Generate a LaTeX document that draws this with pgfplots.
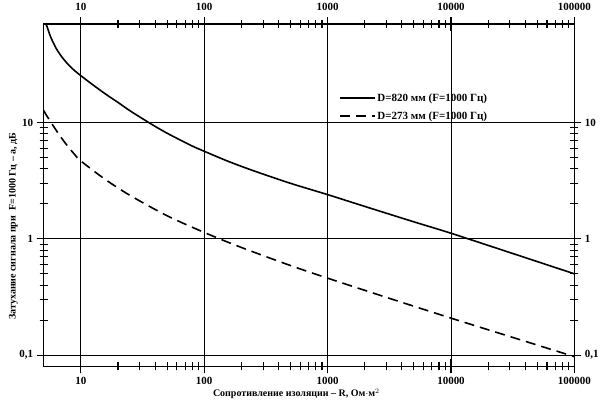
\documentclass[border=0pt]{standalone}
\usepackage{fontspec}
\setmainfont{Liberation Serif}
\usepackage{pgfplots}
\pgfplotsset{compat=1.18}

\begin{document}
\begin{tikzpicture}
\begin{axis}[
    xmode=log, ymode=log,
    scale only axis,
    width=529bp, height=341bp,
    xmin=5, xmax=100000,
    ymin=0.08, ymax=70,
    xtick={10,100,1000,10000,100000},
    xticklabels={10,100,1000,10000,100000},
    ytick={0.1,1,10},
    yticklabels={{0,1},1,10},
    tick align=center,
    major tick length=14bp,
    minor tick length=8bp,
    tick style={black, line width=1.1pt},
    axis line style={line width=1.6pt},
    ticklabel style={font=\bfseries\fontsize{11}{13}\selectfont},
    grid=major,
    major grid style={black, line width=1.0pt},
    xlabel={Сопротивление изоляции -- R, Ом$\cdot$м$^2$},
    ylabel={Затухание сигнала при\ \ F=1000 Гц -- a, дБ},
    label style={font=\bfseries\fontsize{10}{12}\selectfont},
    xlabel style={at={(axis description cs:0.476,-0.08)}, anchor=center},
    ylabel style={at={(axis description cs:-0.057,0.41)}, anchor=center, inner ysep=9bp},
    legend style={draw=none, fill=none, at={(0.55,0.81)}, anchor=north west,
                  font=\bfseries\fontsize{11}{13}\selectfont, row sep=5bp},
    legend cell align=left,
    legend image code/.code={\draw[#1] (0bp,0bp) -- (35bp,0bp);},
]
% D=820 mm
\addplot[black, line width=1.6pt, smooth] coordinates {
    (5, 75) (5.3, 67.7) (5.7, 54.3) (6.3, 43.6) (7, 36.8) (8, 31.1)
    (9, 27.7) (10, 25.3) (12.6, 21.0) (15.85, 17.6) (20, 14.9)
    (25.1, 12.6) (31.6, 10.8) (39.8, 9.3) (50, 8.1) (63, 7.13)
    (79, 6.32) (100, 5.66) (158, 4.62) (251, 3.85) (501, 3.0)
    (1000, 2.4) (2000, 1.9) (5000, 1.4) (10000, 1.117) (30000, 0.762)
    (100000, 0.5)
};
\addlegendentry{D=820 мм (F=1000 Гц)}

% D=273 mm
\addplot[black, line width=1.6pt, dash pattern=on 10bp off 6bp, smooth] coordinates {
    (5, 12.7) (5.2, 11.8) (6, 9.3) (7, 7.33) (8, 6.08) (9, 5.25)
    (10, 4.67) (15.85, 3.23) (25.1, 2.36) (50, 1.58) (100, 1.135)
    (200, 0.843) (501, 0.589) (1000, 0.459) (3162, 0.308)
    (10000, 0.208) (31623, 0.142) (100000, 0.097)
};
\addlegendentry{D=273 мм (F=1000 Гц)}
\end{axis}

% second axis: tick labels on top and right
\begin{axis}[
    xmode=log, ymode=log,
    scale only axis,
    width=529bp, height=341bp,
    xmin=5, xmax=100000,
    ymin=0.08, ymax=70,
    xtick={10,100,1000,10000,100000},
    xticklabels={10,100,1000,10000,100000},
    ytick={0.1,1,10},
    yticklabels={{0,1},1,10},
    tick align=center,
    major tick length=14bp,
    minor tick length=8bp,
    tick style={black, line width=1.1pt},
    axis line style={line width=1.6pt},
    ticklabel style={font=\bfseries\fontsize{11}{13}\selectfont},
    xticklabel style={yshift=3bp},
    xticklabel pos=right,
    yticklabel pos=right,
]
\end{axis}
\end{tikzpicture}
\end{document}
